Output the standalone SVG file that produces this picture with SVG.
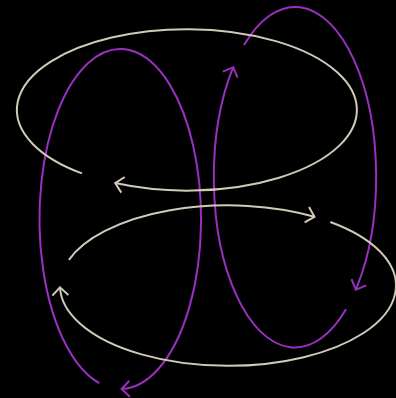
<svg xmlns="http://www.w3.org/2000/svg" width="396" height="398" viewBox="0 0 396 398">
  <style>
    .beige { fill: none; stroke: #d2cab8; stroke-width: 2; }
    .purple { fill: none; stroke: #9a30c0; stroke-width: 2; }
  </style>
  <defs>
    <marker id="arrowBeige" markerUnits="userSpaceOnUse" markerWidth="20" markerHeight="20" refX="10" refY="10" orient="auto" overflow="visible">
      <path d="M 2 2 L 10 10 L 2 18" fill="none" stroke="#d2cab8" stroke-width="2"/>
    </marker>
    <marker id="arrowPurple" markerUnits="userSpaceOnUse" markerWidth="20" markerHeight="20" refX="10" refY="10" orient="auto" overflow="visible">
      <path d="M 2 2 L 10 10 L 2 18" fill="none" stroke="#9a30c0" stroke-width="2"/>
    </marker>
  </defs>
  <rect x="0" y="0" width="396" height="398" fill="#000000"/>
  <g id="connectors">
    <g id="loop-left">
      <path class="purple" d="M 99.3 383.2 A 80.8 170 0 1 1 121.6 389" marker-end="url(#arrowPurple)"/>
    </g>
    <g id="loop-right">
      <path class="purple" d="M 244 45.1 A 81 170 0 0 1 355.8 289.6" marker-end="url(#arrowPurple)"/>
      <path class="purple" d="M 346 309.3 A 81 170 0 0 1 233.2 67.2" marker-end="url(#arrowPurple)"/>
    </g>
    <g id="loop-top">
      <path class="beige" d="M 81.9 173.4 A 170 80.7 0 1 1 115.2 183.1" marker-end="url(#arrowBeige)"/>
    </g>
    <g id="loop-bottom">
      <path class="beige" d="M 68.9 259.9 A 168 80.2 0 0 1 314.5 216.8" marker-end="url(#arrowBeige)"/>
      <path class="beige" d="M 330.3 222 A 168 80.2 0 1 1 60 287.3" marker-end="url(#arrowBeige)"/>
    </g>
  </g>
</svg>
